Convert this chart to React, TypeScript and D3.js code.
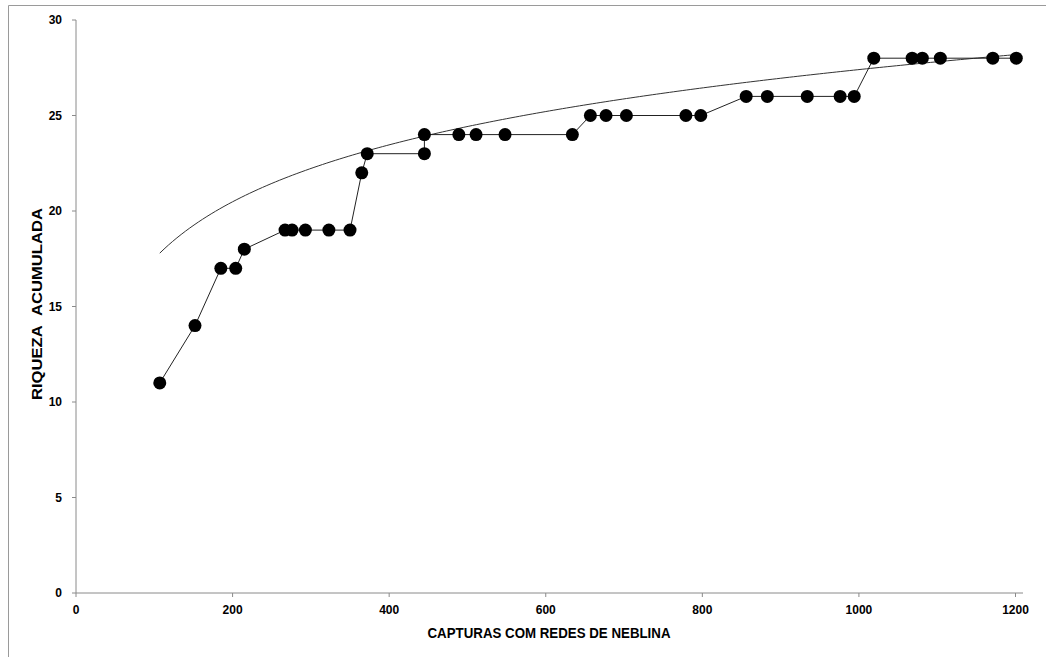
import React from "react";
import * as d3 from "d3";

// captures (x) and accumulated richness (y)
const capturas = [
  107, 152, 185, 204, 215, 267, 276, 293, 323, 350, 365, 372, 445, 445, 489,
  511, 548, 634, 657, 677, 703, 779, 798, 856, 883, 934, 976, 994, 1019, 1068,
  1081, 1104, 1171, 1201,
];
const riqueza = [
  11, 14, 17, 17, 18, 19, 19, 19, 19, 19, 22, 23, 23, 24, 24, 24, 24, 24, 25,
  25, 25, 25, 25, 26, 26, 26, 26, 26, 28, 28, 28, 28, 28, 28,
];

// logarithmic trendline y = a ln(x) + b (as drawn in the figure)
const trendA = 4.3;
const trendB = -2.3;

const xTicks = [0, 200, 400, 600, 800, 1000, 1200];
const yTicks = [0, 5, 10, 15, 20, 25, 30];

const xTitle = "CAPTURAS COM REDES DE NEBLINA";
const yTitle = "RIQUEZA\u00a0\u00a0ACUMULADA";

const W = 1046;
const H = 657;

const App = () => {
  const x = d3.scaleLinear().domain([0, 1200]).range([76, 1015.5]);
  const y = d3.scaleLinear().domain([0, 30]).range([593, 20]);

  const points = capturas.map((c, i) => [c, riqueza[i]] as [number, number]);

  const line = d3
    .line<[number, number]>()
    .x((d) => x(d[0]))
    .y((d) => y(d[1]));

  const xMin = d3.min(capturas) as number;
  const xMax = d3.max(capturas) as number;
  const trendPts: [number, number][] = d3
    .range(0, 201)
    .map((i) => xMin + ((xMax - xMin) * i) / 200)
    .map((v) => [v, trendA * Math.log(v) + trendB]);

  const axisColor = "#8a8a8a";
  const font = "'Liberation Sans', Arial, sans-serif";
  const tickFont = { fontFamily: font, fontWeight: 700, fontSize: 12 };

  return (
    <svg
      width={W}
      height={H}
      style={{ position: "fixed", left: 0, top: 0, background: "#fff" }}
    >
      {/* outer chart frame */}
      <path d={`M8.5,${H} V5.5 H${W}`} fill="none" stroke="#9a9a9a" strokeWidth={1} />

      {/* y axis */}
      <line x1={x(0)} x2={x(0)} y1={y(30)} y2={y(0)} stroke={axisColor} />
      {yTicks.map((t) => (
        <g key={"y" + t}>
          <line x1={x(0) - 4} x2={x(0)} y1={y(t)} y2={y(t)} stroke={axisColor} />
          <text x={62} y={y(t)} dy="0.35em" textAnchor="end" style={tickFont}>
            {t}
          </text>
        </g>
      ))}

      {/* x axis */}
      <line x1={x(0)} x2={1023} y1={y(0)} y2={y(0)} stroke={axisColor} />
      {xTicks.map((t) => (
        <g key={"x" + t}>
          <line x1={x(t)} x2={x(t)} y1={y(0)} y2={y(0) + 4} stroke={axisColor} />
          <text x={x(t)} y={614} textAnchor="middle" style={tickFont}>
            {t}
          </text>
        </g>
      ))}

      {/* axis titles */}
      <text
        x={549}
        y={638}
        textAnchor="middle"
        textLength={243}
        lengthAdjust="spacingAndGlyphs"
        style={{ fontFamily: font, fontWeight: 700, fontSize: 14 }}
      >
        {xTitle}
      </text>
      <text
        transform="translate(42,304) rotate(-90)"
        textAnchor="middle"
        textLength={192}
        lengthAdjust="spacingAndGlyphs"
        style={{ fontFamily: font, fontWeight: 700, fontSize: 15 }}
      >
        {yTitle}
      </text>

      {/* trendline */}
      <path d={line(trendPts) || ""} fill="none" stroke="#333" strokeWidth={1} />

      {/* data series */}
      <path d={line(points) || ""} fill="none" stroke="#222" strokeWidth={1} />
      {points.map((p, i) => (
        <circle key={i} cx={x(p[0])} cy={y(p[1])} r={6.5} fill="#000" />
      ))}
    </svg>
  );
};

export default App;
